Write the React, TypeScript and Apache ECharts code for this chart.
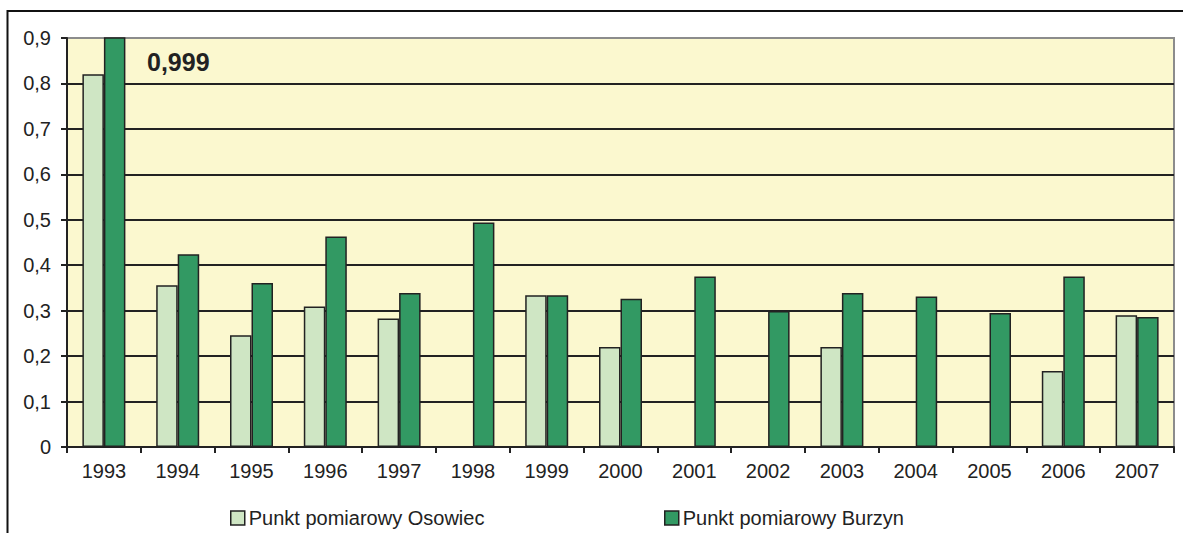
import React, { useEffect, useRef } from "react";
import * as echarts from "echarts";

const categories = ["1993","1994","1995","1996","1997","1998","1999","2000","2001","2002","2003","2004","2005","2006","2007"];
const osowiec: (number | null)[] = [0.82, 0.356, 0.246, 0.309, 0.283, null, 0.334, 0.22, null, null, 0.22, null, null, 0.167, 0.29];
const burzyn: number[] = [0.999, 0.424, 0.361, 0.463, 0.339, 0.494, 0.334, 0.326, 0.375, 0.299, 0.339, 0.331, 0.295, 0.375, 0.286];
const seriesNames = ["Punkt pomiarowy Osowiec", "Punkt pomiarowy Burzyn"];
const yTicks = [0, 0.1, 0.2, 0.3, 0.4, 0.5, 0.6, 0.7, 0.8, 0.9];

const FONT = "'Liberation Sans', Arial, sans-serif";
const fmt = (v: number) => (v === 0 ? "0" : String(Math.round(v * 1000) / 1000).replace(".", ","));

export default function App() {
  const ref = useRef<HTMLDivElement>(null);
  useEffect(() => {
    if (!ref.current) return;
    const chart = echarts.init(ref.current, null, { renderer: "svg" });
    const splitColors = yTicks.map((t, i) => (i === yTicks.length - 1 ? "#8c8c8c" : "#222"));
    const legendBase = {
      top: 503,
      icon: "rect",
      itemWidth: 14,
      itemHeight: 14,
      itemGap: 6,
      itemStyle: { borderColor: "#222", borderWidth: 1.5 },
      textStyle: { fontSize: 20, color: "#222", fontFamily: FONT, padding: [0, 0, 0, -1] },
    };
    chart.setOption({
      animation: false,
      backgroundColor: "#ffffff",
      textStyle: { fontFamily: FONT },
      grid: {
        left: 67,
        top: 38,
        right: 9,
        bottom: 86,
        show: true,
        backgroundColor: "#fbf8cf",
        borderColor: "#8c8c8c",
        borderWidth: 2,
      },
      legend: [
        { ...legendBase, data: [seriesNames[0]], left: 225 },
        { ...legendBase, data: [seriesNames[1]], left: 659 },
      ],
      xAxis: {
        type: "category",
        data: categories,
        axisLine: { lineStyle: { color: "#222", width: 2 } },
        axisTick: { show: true, length: 6, lineStyle: { color: "#222", width: 2 } },
        axisLabel: { fontSize: 20, color: "#222", margin: 14, fontFamily: FONT },
      },
      yAxis: {
        type: "value",
        min: 0,
        max: 0.9,
        interval: 0.1,
        axisLine: { show: true, lineStyle: { color: "#222", width: 2 } },
        axisTick: { show: true, length: 6, lineStyle: { color: "#222", width: 2 } },
        axisLabel: { fontSize: 20, color: "#222", margin: 16, fontFamily: FONT, formatter: (v: number) => fmt(v) },
        splitLine: { show: true, lineStyle: { color: splitColors, width: 2 } },
      },
      series: [
        {
          name: seriesNames[0],
          type: "bar",
          data: osowiec,
          barWidth: 21.5,
          barGap: "0%",
          itemStyle: { color: "#cfe6c4", borderColor: "#222", borderWidth: 1.5 },
        },
        {
          name: seriesNames[1],
          type: "bar",
          data: burzyn,
          barWidth: 21.5,
          barGap: "0%",
          itemStyle: { color: "#329963", borderColor: "#222", borderWidth: 1.5 },
        },
      ],
      graphic: [
        {
          type: "rect",
          shape: { x: 7.5, y: 11, width: 1300, height: 700 },
          style: { fill: "none", stroke: "#111", lineWidth: 2 },
          silent: true,
          z: 100,
        },
        {
          type: "text",
          x: 147,
          y: 62,
          style: {
            text: fmt(burzyn[0]),
            fontSize: 25,
            fontWeight: "bold",
            fontFamily: FONT,
            fill: "#222",
            verticalAlign: "middle",
          },
          z: 100,
        },
      ],
    });
    return () => chart.dispose();
  }, []);
  return <div ref={ref} style={{ position: "absolute", left: 0, top: 0, width: 1183, height: 533 }} />;
}
